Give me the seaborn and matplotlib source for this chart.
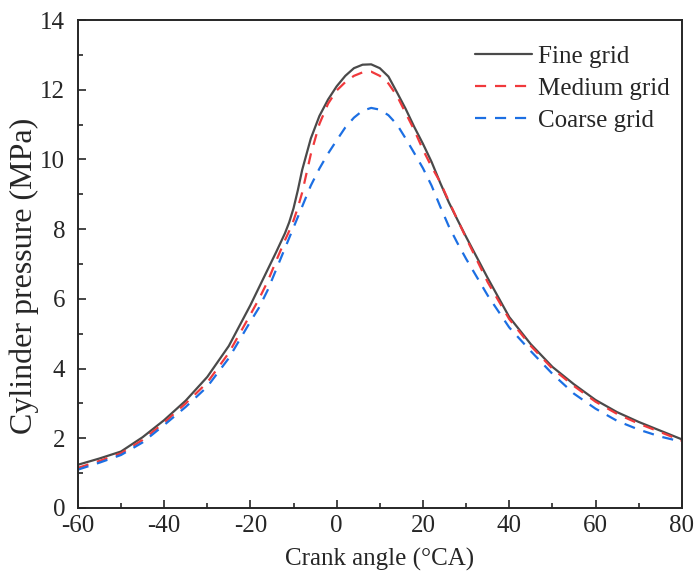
import matplotlib
matplotlib.use("Agg")
import matplotlib.pyplot as plt
import seaborn as sns
import pandas as pd
from matplotlib.ticker import MultipleLocator

# -------------------------------
# Data
# -------------------------------
crank_angle = [-60, -55, -50, -45, -40, -35, -30, -25, -20, -18, -16, -14, -12,
               -11, -10, -9, -8, -6, -4, -2, 0, 2, 4, 6, 8, 10, 12, 14, 16, 18,
               20, 22, 24, 26, 28, 30, 35, 40, 45, 50, 55, 60, 65, 70, 75, 80]

fine_grid = [1.24, 1.42, 1.62, 2.03, 2.52, 3.08, 3.76, 4.65, 5.82, 6.33, 6.84,
             7.35, 7.88, 8.2, 8.6, 9.12, 9.7, 10.6, 11.25, 11.72, 12.1, 12.4,
             12.62, 12.72, 12.73, 12.62, 12.38, 11.92, 11.45, 10.93, 10.45,
             9.93, 9.33, 8.77, 8.27, 7.78, 6.6, 5.48, 4.7, 4.05, 3.55, 3.1,
             2.75, 2.47, 2.22, 1.97]

medium_grid = [1.15, 1.35, 1.57, 1.95, 2.45, 3.0, 3.6, 4.45, 5.55, 6.0, 6.5,
               7.1, 7.68, 7.95, 8.25, 8.62, 9.05, 10.15, 11.02, 11.6, 11.98,
               12.22, 12.4, 12.5, 12.52, 12.4, 12.18, 11.82, 11.33, 10.84,
               10.28, 9.79, 9.35, 8.8, 8.27, 7.75, 6.48, 5.42, 4.65, 4.0, 3.5,
               3.05, 2.7, 2.42, 2.18, 1.93]

coarse_grid = [1.1, 1.3, 1.52, 1.88, 2.38, 2.9, 3.48, 4.3, 5.35, 5.75, 6.25,
               6.85, 7.45, 7.75, 8.05, 8.35, 8.65, 9.25, 9.74, 10.17, 10.55,
               10.92, 11.2, 11.4, 11.48, 11.43, 11.27, 11.0, 10.6, 10.18, 9.75,
               9.25, 8.65, 8.08, 7.6, 7.15, 6.1, 5.18, 4.5, 3.85, 3.28, 2.85,
               2.5, 2.25, 2.05, 1.9]

series_names = ["Fine grid", "Medium grid", "Coarse grid"]

# -------------------------------
# DataFrame
# -------------------------------
df = pd.concat([
    pd.DataFrame({"angle": crank_angle, "pressure": vals, "grid": name})
    for name, vals in zip(series_names, [fine_grid, medium_grid, coarse_grid])
])

# -------------------------------
# Chart
# -------------------------------
sns.set_style("ticks")
plt.rcParams["font.family"] = ["Liberation Serif", "DejaVu Serif"]
plt.rcParams["axes.unicode_minus"] = False

fig = plt.figure(figsize=(6.95, 5.74), dpi=100)
ax = fig.add_axes([0.112, 0.115, 0.869, 0.85])

cores = {"Fine grid": "#4a4a4a", "Medium grid": "#f0393c", "Coarse grid": "#1c6fe3"}
tracos = {"Fine grid": "", "Medium grid": (5, 4), "Coarse grid": (5, 4)}

sns.lineplot(
    data=df, x="angle", y="pressure", hue="grid", style="grid",
    palette=cores, dashes=tracos, hue_order=series_names,
    style_order=series_names, linewidth=1.6, ax=ax, sort=False
)

ax.set_xlim(-60, 80)
ax.set_ylim(0, 14)
ax.xaxis.set_major_locator(MultipleLocator(20))
ax.xaxis.set_minor_locator(MultipleLocator(10))
ax.yaxis.set_major_locator(MultipleLocator(2))
ax.yaxis.set_minor_locator(MultipleLocator(1))
ax.tick_params(which="major", direction="in", length=6, width=1.2,
               labelsize=18, top=False, right=False)
ax.tick_params(axis="y", which="major", pad=9)
ax.tick_params(axis="x", which="major", pad=5)
ax.tick_params(which="minor", direction="in", length=3.5, width=1.2,
               top=False, right=False)
for s in ax.spines.values():
    s.set_linewidth(1.4)
    s.set_visible(True)

ax.set_xlabel("Crank angle (°CA)", fontsize=18, labelpad=8)
ax.set_ylabel("Cylinder pressure (MPa)", fontsize=23)
ax.yaxis.set_label_coords(-0.065, 0.475)

ax.legend(loc="upper right", bbox_to_anchor=(1.022, 1.0), frameon=False,
          fontsize=18, handlelength=2.3, handletextpad=0.25,
          labelspacing=0.38, borderaxespad=0.7, borderpad=0.3, title=None)

fig.savefig("out.png", dpi=100)
